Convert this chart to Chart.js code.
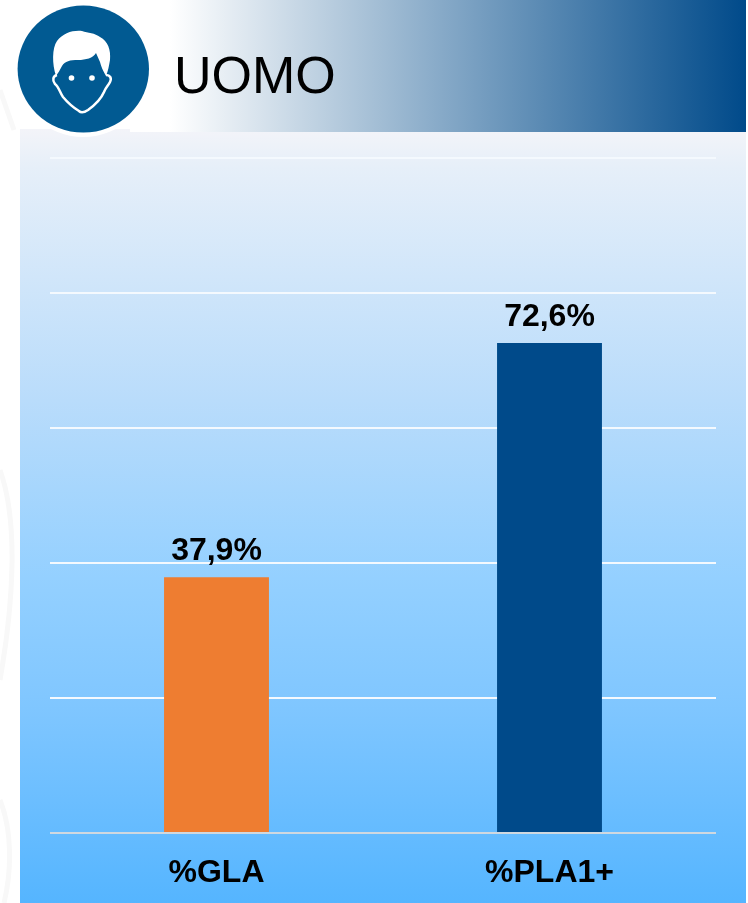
<!DOCTYPE html>
<html>
<head>
<meta charset="utf-8">
<style>
  html, body { margin: 0; padding: 0; background: #fff; }
  #page { position: relative; width: 748px; height: 903px; overflow: hidden; font-family: "Liberation Sans", Arial, sans-serif; }
  #page > * { position: absolute; }
  #header { left: 130px; top: 0; width: 616px; height: 132px; background: linear-gradient(90deg, #fff 0, #fff 40px, #004a8a 616px); }
  #panel { left: 20px; top: 129px; width: 726px; height: 774px; background: linear-gradient(180deg, #f3f4f9 0%, #e6eff9 5%, #b9dcfb 35%, #94d0ff 58%, #7fc6ff 75%, #55b5ff 100%); }
  #watermark, #icon { left: 0; top: 0; }
  #title { left: 174px; top: 44px; font-size: 52px; line-height: 62px; color: #000; }
  #chart-wrap { left: 0; top: 0; width: 748px; height: 903px; }
</style>
</head>
<body>
<div id="page">
  <svg id="watermark" width="20" height="903">
    <path d="M0 470 C18 520 14 600 0 680 M0 800 C12 830 12 870 4 903 M0 90 L14 130" fill="none" stroke="#f8f8f8" stroke-width="5"/>
  </svg>
  <div id="panel"></div>
  <div id="header"></div>
  <div id="title">UOMO</div>
  <svg id="icon" width="170" height="140">
    <ellipse cx="83.3" cy="69" rx="69" ry="68" fill="#fff"/>
    <ellipse cx="83.3" cy="69" rx="65.7" ry="63.5" fill="#015a92"/>
    <path d="M56 76 C52 64 52 48 57 41 C63 33 73 30 82 31 C88 33 95 33 100 37 C108 41 111 50 110 60 C109 66 108 71 106 76 C103 71 101 66 100 62 L96 53 C93 58 86 60 78 60 C70 60 65 61 62 66 C60 70 58 73 56 76 Z" fill="#fff"/>
    <path d="M57 75 C53 76 52 80 55 84 C59 87 60 93 63 97 C68 103 74 108 79 111 C81 113 85 112 88 110 C95 105 101 99 104 92 C106 87 108 86 110 82 C112 78 110 75 106 75" fill="none" stroke="#fff" stroke-width="2.5"/>
    <circle cx="71.5" cy="78" r="2.8" fill="#fff"/>
    <circle cx="92" cy="78" r="2.8" fill="#fff"/>
  </svg>
  <div id="chart-wrap"><canvas id="chart" width="748" height="903"></canvas></div>
</div>
<script src="https://cdn.jsdelivr.net/npm/chart.js@4"></script>
<script>
const categories = ['%GLA', '%PLA1+'];
const values = [37.9, 72.6];
const barColors = ['#ee7d31', '#004a8a'];
const yMax = 100;
const yStep = 20;

// value labels above the bars, comma decimals as in the original
const barLabels = {
  id: 'barLabels',
  afterDatasetsDraw(chart) {
    const ctx = chart.ctx;
    ctx.save();
    ctx.font = 'bold 32px "Liberation Sans", Arial, sans-serif';
    ctx.fillStyle = '#000';
    ctx.textAlign = 'center';
    ctx.textBaseline = 'alphabetic';
    chart.getDatasetMeta(0).data.forEach((bar, i) => {
      ctx.fillText(values[i].toFixed(1).replace('.', ',') + '%', bar.x, bar.y - 17);
    });
    ctx.restore();
  },
};

new Chart(document.getElementById('chart'), {
  type: 'bar',
  data: {
    labels: categories,
    datasets: [{
      data: values,
      backgroundColor: barColors,
      categoryPercentage: 0.315,
      barPercentage: 1,
    }],
  },
  options: {
    responsive: false,
    animation: false,
    layout: { padding: { left: 50, right: 32, top: 158, bottom: 10 } },
    plugins: { legend: { display: false }, tooltip: { enabled: false } },
    scales: {
      y: {
        min: 0,
        max: yMax,
        ticks: { display: false, stepSize: yStep },
        border: { display: false },
        grid: {
          drawTicks: false,
          lineWidth: 2,
          color: ctx => ctx.tick.value === 0 ? '#cfd8e0' : '#f4f9fe',
        },
      },
      x: {
        border: { display: false },
        grid: { display: false },
        // fixed height so the plot floor sits at the reference position
        afterFit(scale) { scale.height = 60; },
        ticks: {
          color: '#000',
          padding: 13,
          font: { family: '"Liberation Sans", Arial, sans-serif', size: 32, weight: 'bold' },
        },
      },
    },
  },
  plugins: [barLabels],
});
</script>
</body>
</html>
